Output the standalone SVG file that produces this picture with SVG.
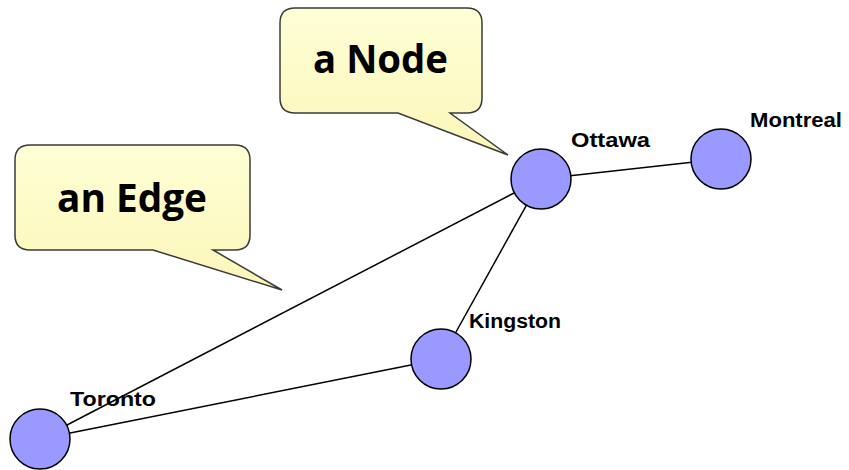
<svg xmlns="http://www.w3.org/2000/svg" width="849" height="470" viewBox="0 0 849 470">
  <style>
    .edge { stroke: #000; stroke-width: 1.5; fill: none; }
    .node { fill: #9999FF; stroke: #000; stroke-width: 1.5; }
    .label { font-family: "Liberation Sans", Arial, sans-serif; font-weight: bold; font-size: 20px; fill: #000; }
    .callout { fill: url(#calloutFill); stroke: #3a3a3a; stroke-width: 1.5; }
    .calloutText { font-family: "Open Sans", "Noto Sans", sans-serif; font-weight: bold; font-size: 39px; fill: #000; }
  </style>
  <defs>
    <linearGradient id="calloutFill" x1="0" y1="0" x2="0" y2="1">
      <stop offset="0" stop-color="#FFFFD6"/>
      <stop offset="1" stop-color="#FBF6B8"/>
    </linearGradient>
  </defs>

  <!-- callouts -->
  <g id="callout-node">
    <path class="callout" d="M295,8 H467 Q482,8 482,23 V98 Q482,113 467,113 H450 L508,155 L398,113 H295 Q280,113 280,98 V23 Q280,8 295,8 Z"/>
    <text class="calloutText" x="313" y="73" textLength="135" lengthAdjust="spacingAndGlyphs">a Node</text>
  </g>
  <g id="callout-edge">
    <path class="callout" d="M30,145 H235 Q250,145 250,160 V235 Q250,250 235,250 H213 L282,290 L153,250 H30 Q15,250 15,235 V160 Q15,145 30,145 Z"/>
    <text class="calloutText" x="57" y="212" textLength="150" lengthAdjust="spacingAndGlyphs">an Edge</text>
  </g>

  <!-- connectors -->
  <g id="edges">
    <line class="edge" x1="541" y1="179" x2="721" y2="159"/>
    <line class="edge" x1="541" y1="179" x2="40" y2="439"/>
    <line class="edge" x1="541" y1="179" x2="441" y2="359"/>
    <line class="edge" x1="441" y1="359" x2="40" y2="439"/>
  </g>

  <!-- nodes -->
  <g id="ottawa">
    <circle class="node" cx="541" cy="179" r="30"/>
    <text class="label" x="571" y="147" textLength="79" lengthAdjust="spacingAndGlyphs">Ottawa</text>
  </g>
  <g id="montreal">
    <circle class="node" cx="721" cy="159" r="30"/>
    <text class="label" x="750" y="127" textLength="92" lengthAdjust="spacingAndGlyphs">Montreal</text>
  </g>
  <g id="kingston">
    <circle class="node" cx="441" cy="359" r="30"/>
    <text class="label" x="469" y="328" textLength="92" lengthAdjust="spacingAndGlyphs">Kingston</text>
  </g>
  <g id="toronto">
    <circle class="node" cx="40" cy="439" r="30"/>
    <text class="label" x="70" y="406" textLength="86" lengthAdjust="spacingAndGlyphs">Toronto</text>
  </g>
</svg>
